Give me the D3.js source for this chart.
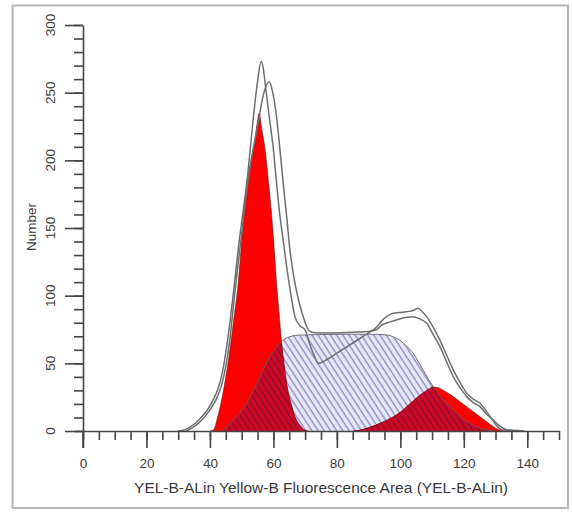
<!DOCTYPE html>
<html>
<head>
<meta charset="utf-8">
<script src="https://cdn.jsdelivr.net/npm/d3@7"></script>
<style>
  html, body { margin: 0; padding: 0; background: #fff; }
  svg { display: block; }
  text { font-family: "Liberation Sans", Arial, sans-serif; fill: #3a3a3a; }
</style>
</head>
<body>
<script>
// ---- data (x = fluorescence, y = number) ----
const xMajorTicks = [0, 20, 40, 60, 80, 100, 120, 140];
const yMajorTicks = [0, 50, 100, 150, 200, 250, 300];
const xTitle = "YEL-B-ALin Yellow-B Fluorescence Area (YEL-B-ALin)";
const yTitle = "Number";

// outer histogram outline A (tallest peak)
const histA = [[30,0],[31.5,0.5],[33,2],[35,5],[37,9.5],[39,15],[41,23],[42.5,31],[43.8,42],[45,58],[46.3,80],[47.6,106],[48.9,134],[50.2,158],[51.6,183],[52.7,208],[53.7,232],[55,258],[56.1,273],[56.8,268],[57.4,257],[58.7,232],[60,208],[61,183],[62.1,158],[63.2,139],[64.2,121],[65.5,101],[66.8,84.5],[68.3,78],[70,74.6],[71.5,64],[73,55],[74.2,50],[77,53],[80,57.5],[83,62],[86,66.5],[89,71],[92.6,77],[94,81],[96,85],[97.8,87],[100,87.5],[102,88.2],[104,89],[105.7,90.7],[107,88],[108.3,84.5],[110.5,76],[112.5,67],[114.6,56],[116.7,45],[118.8,36],[120.9,28],[123,23.5],[125.1,20.5],[126.7,16],[128.3,10.6],[130,5],[131.4,1.5],[133,0.5],[136,0]];
// outer histogram outline B (second peak)
const histB = [[32.5,0],[34.5,2.5],[36.5,6],[38.5,11],[40.5,17.5],[42.3,25],[43.8,35],[45,48],[46.2,66],[47.3,90],[48.6,118],[50,146],[51.3,172],[53,200],[55,225],[56.8,248],[58.7,258],[59.8,250],[61,232],[62.1,207],[63.1,183],[64.2,158],[65.2,134],[66.5,113],[67.9,97],[69.2,86],[70.5,77],[72,73],[75,72.5],[80,72.5],[85,73],[90,73.5],[92.6,75],[94,78],[96,80],[98,81.5],[100,83],[102,84],[104.1,84.5],[106,83],[108.3,79.6],[110.4,71],[112.5,62.3],[114.6,51],[116.7,40],[118.8,32],[120.9,25.4],[123,21],[125.1,18],[127,13],[129.3,8],[131.5,3.5],[133.5,1],[137,0.3],[139,0]];
// G0/G1 fitted peak
const g1Peak = [[40,0],[41.1,0.7],[42.4,10],[43.7,23],[45,40],[46.3,60],[47.6,84],[48.9,109],[50.2,146],[51.6,183],[52.8,198],[53.9,211],[54.8,226],[55.5,234.8],[56.4,222],[57.4,207.7],[58.5,183],[59.5,158],[60.3,133],[61,109],[61.8,87],[62.6,65],[63.4,49],[64.2,35],[65.5,21],[66.8,10.6],[68.4,4],[70,0.5],[71,0]];
// S-phase fit
const sPhase = [[44,0],[46.3,5.7],[49,12],[51.6,20.5],[53.7,30],[55.8,40],[57.3,48],[58.9,55],[60.5,60.5],[62.1,65],[63.6,68],[65.2,69.7],[67,70.7],[70.5,71],[80,71.5],[90,71.5],[95.7,71],[97.8,69.5],[99.9,67],[102,62.5],[104.1,57.4],[105.7,51],[107.2,45],[108.8,38.5],[110.4,32.7],[112,27.5],[114,22],[116,17],[118,12.5],[120,8.5],[122,5.5],[124,3],[126,1.5],[128,0.5],[130,0]];
// G2/M fitted peak
const g2Peak = [[85,0],[87.3,0.7],[90,2.5],[93.6,5.7],[95.7,8],[97.8,10.6],[100,14],[102,18],[104.1,22.3],[106.2,26.6],[108.3,30],[110.4,32.5],[112,32],[113.6,30],[115.2,27.8],[116.7,25.4],[118.8,21.7],[120.9,18],[123,14.3],[125.1,10.6],[127.2,6.8],[129.3,3.2],[131,1],[132.5,0]];

// ---- layout ----
const W = 572, H = 512;
const x = d3.scaleLinear().domain([0, 150]).range([83, 559]);
const y = d3.scaleLinear().domain([0, 300]).range([431, 25]);

const svg = d3.select("body").append("svg").attr("width", W).attr("height", H);
const defs = svg.append("defs");

// hatch patterns
function hatch(id, color, w) {
  const p = defs.append("pattern").attr("id", id)
    .attr("patternUnits", "userSpaceOnUse").attr("width", 5.2).attr("height", 10)
    .attr("patternTransform", "rotate(-33)");
  p.append("line").attr("x1", 1).attr("y1", 0).attr("x2", 1).attr("y2", 10)
    .attr("stroke", color).attr("stroke-width", w);
}
hatch("hatch", "#7878bc", 1.1);
hatch("hatchDark", "#8a0a30", 1.1);

// frame
svg.append("rect").attr("x", 12.5).attr("y", 5.5).attr("width", 555.5).attr("height", 502.5)
  .attr("fill", "none").attr("stroke", "#b4b4b4").attr("stroke-width", 2);

const area = d3.area().x(d => x(d[0])).y0(y(0)).y1(d => y(d[1])).curve(d3.curveMonotoneX);
const line = d3.line().x(d => x(d[0])).y(d => y(d[1])).curve(d3.curveMonotoneX);

defs.append("clipPath").attr("id", "sclip").append("path").attr("d", area(sPhase));

const plot = svg.append("g");
// S-phase background + hatch
plot.append("path").attr("d", area(sPhase)).attr("fill", "#e6e6f6");
plot.append("path").attr("d", area(sPhase)).attr("fill", "url(#hatch)");
// red peaks
[g1Peak, g2Peak].forEach(p => plot.append("path").attr("d", area(p)).attr("fill", "#ff0000"));
// overlap (darker red, hatched) within S region
const ov = plot.append("g").attr("clip-path", "url(#sclip)");
[g1Peak, g2Peak].forEach(p => {
  ov.append("path").attr("d", area(p)).attr("fill", "#cc0a26");
  ov.append("path").attr("d", area(p)).attr("fill", "url(#hatchDark)");
});
// outlines of fitted components
[g1Peak, g2Peak].forEach(p => plot.append("path").attr("d", line(p))
  .attr("fill", "none").attr("stroke", "#5a1010").attr("stroke-width", 0.8).attr("stroke-opacity", 0.7));
plot.append("path").attr("d", line(sPhase)).attr("fill", "none")
  .attr("stroke", "#6a5a60").attr("stroke-width", 0.9);

// outer histograms
[histA, histB].forEach(h => plot.append("path").attr("d", line(h))
  .attr("fill", "none").attr("stroke", "#6e6e6e").attr("stroke-width", 1.5));

// ---- axes ----
const axisStyle = g => {
  g.selectAll(".domain").attr("stroke", "#454545").attr("stroke-width", 1.6);
  g.selectAll(".tick line").attr("stroke", "#454545").attr("stroke-width", 1.6);
};
// x minor
svg.append("g").attr("transform", `translate(0,${y(0)})`)
  .call(d3.axisBottom(x).tickValues(d3.range(0, 151, 5)).tickSize(9).tickSizeOuter(0).tickFormat(""))
  .call(axisStyle);
// x major
svg.append("g").attr("transform", `translate(0,${y(0)})`)
  .call(d3.axisBottom(x).tickValues(xMajorTicks).tickSize(17).tickSizeOuter(0).tickPadding(10).tickFormat(d3.format("d")))
  .call(axisStyle)
  .call(g => g.select(".domain").remove())
  .call(g => g.selectAll("text").attr("font-size", 13.5).attr("fill", "#3a3a3a")
    .attr("font-family", "Liberation Sans, Arial, sans-serif"));
// y minor
svg.append("g").attr("transform", `translate(${x(0)},0)`)
  .call(d3.axisLeft(y).tickValues(d3.range(0, 301, 10)).tickSize(9).tickSizeOuter(0).tickFormat(""))
  .call(axisStyle);
// y major
svg.append("g").attr("transform", `translate(${x(0)},0)`)
  .call(d3.axisLeft(y).tickValues(yMajorTicks).tickSize(18).tickSizeOuter(0).tickFormat(""))
  .call(axisStyle)
  .call(g => g.select(".domain").remove());
// y tick labels (rotated)
svg.append("g").selectAll("text").data(yMajorTicks).join("text")
  .attr("transform", d => `translate(50,${y(d)}) rotate(-90)`)
  .attr("text-anchor", "middle").attr("dominant-baseline", "central")
  .attr("font-size", 13.5).text(d => d);
// extend vertical axis below baseline at 0
svg.append("line").attr("x1", x(0)).attr("x2", x(0)).attr("y1", y(0)).attr("y2", y(0) + 17)
  .attr("stroke", "#454545").attr("stroke-width", 1.6);

// titles
svg.append("text").attr("x", 321).attr("y", 493).attr("text-anchor", "middle")
  .attr("font-size", 15.5).text(xTitle);
svg.append("text").attr("transform", "translate(31,227) rotate(-90)")
  .attr("text-anchor", "middle").attr("dominant-baseline", "central")
  .attr("font-size", 13.5).text(yTitle);
</script>
</body>
</html>
